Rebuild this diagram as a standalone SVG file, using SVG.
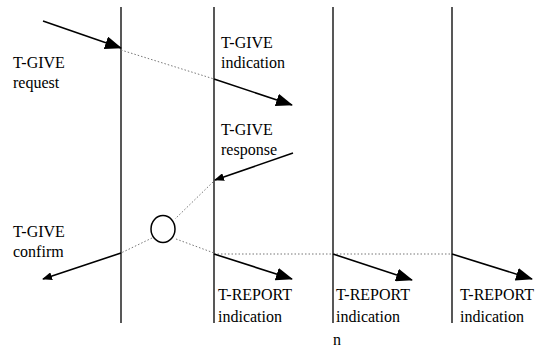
<svg xmlns="http://www.w3.org/2000/svg" width="543" height="349" viewBox="0 0 543 349">
<style>
.life{stroke:#111;stroke-width:1.4}
.msg{stroke:#000;stroke-width:1.6;fill:none}
.dot{stroke:#777;stroke-width:1;stroke-dasharray:1.5 2;fill:none}
.lbl{font-family:'Liberation Serif','Times New Roman','DejaVu Serif',serif;font-size:16px;fill:#000}
</style>
<defs>
<marker id="big" markerUnits="userSpaceOnUse" markerWidth="17" markerHeight="13" viewBox="0 0 17 13" refX="16" refY="6.5" orient="auto"><path d="M0,0 L17,6.5 L0,13 z" fill="#000"/></marker>
<marker id="small" markerUnits="userSpaceOnUse" markerWidth="10" markerHeight="8" viewBox="0 0 10 8" refX="9" refY="4" orient="auto"><path d="M0,0 L10,4 L0,8 z" fill="#000"/></marker>
</defs>
<rect width="543" height="349" fill="#fff"/>
<g id="lifelines">
<line class="life" x1="121" y1="7" x2="121" y2="323"/>
<line class="life" x1="214" y1="7" x2="214" y2="323"/>
<line class="life" x1="333" y1="7" x2="333" y2="323"/>
<line class="life" x1="452" y1="7" x2="452" y2="323"/>
</g>
<g id="node-circle"><ellipse cx="163" cy="229" rx="12" ry="13.5" fill="#fff" stroke="#000" stroke-width="1.5"/></g>
<g id="connectors">
<line class="msg" x1="43" y1="21" x2="121" y2="48" marker-end="url(#big)"/>
<line class="dot" x1="121" y1="50" x2="214" y2="79"/>
<line class="msg" x1="214" y1="79" x2="292" y2="105" marker-end="url(#big)"/>
<line class="msg" x1="293" y1="153" x2="215" y2="180" marker-end="url(#small)"/>
<line class="dot" x1="213" y1="182" x2="175" y2="219"/>
<line class="dot" x1="152" y1="238" x2="121" y2="253"/>
<line class="msg" x1="121" y1="253" x2="43" y2="279" marker-end="url(#small)"/>
<line class="dot" x1="176" y1="239" x2="214" y2="253"/>
<line class="dot" x1="214" y1="254" x2="452" y2="254"/>
<line class="msg" x1="214" y1="254" x2="292" y2="279" marker-end="url(#big)"/>
<line class="msg" x1="333" y1="254" x2="412" y2="280" marker-end="url(#big)"/>
<line class="msg" x1="452" y1="254" x2="532" y2="279" marker-end="url(#big)"/>
</g>
<g id="labels" class="lbl" font-family="Liberation Serif, serif">
<text x="13" y="68">T-GIVE</text><text x="13" y="88">request</text>
<text x="221" y="48">T-GIVE</text><text x="221" y="68">indication</text>
<text x="221" y="135">T-GIVE</text><text x="221" y="155">response</text>
<text x="13" y="237">T-GIVE</text><text x="13" y="257">confirm</text>
<text x="218" y="300">T-REPORT</text><text x="218" y="322">indication</text>
<text x="336" y="300">T-REPORT</text><text x="336" y="322">indication</text><text x="333" y="345">n</text>
<text x="460" y="300">T-REPORT</text><text x="460" y="322">indication</text>
</g>
</svg>
